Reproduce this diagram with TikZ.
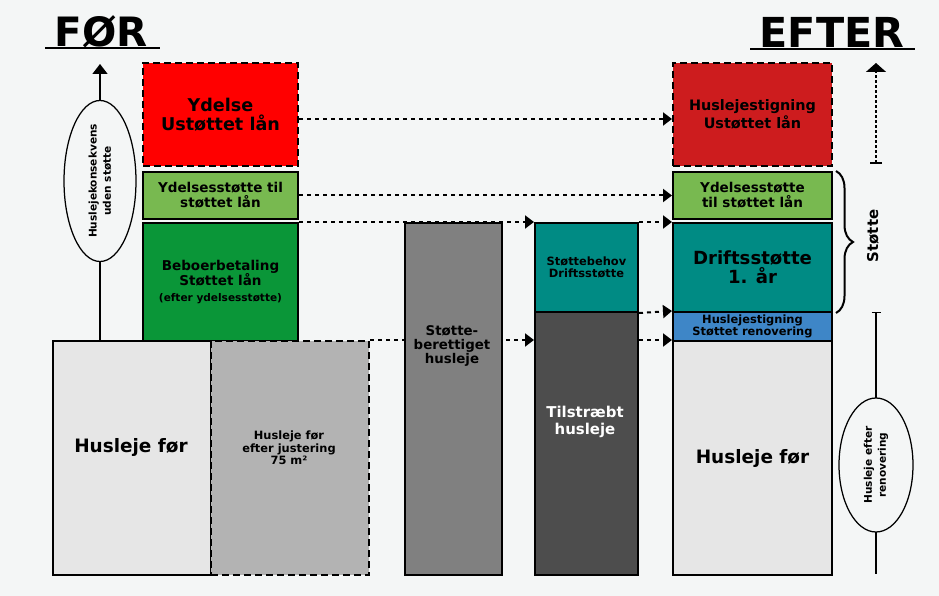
\documentclass[tikz,border=0pt]{standalone}
\usepackage{fontspec}
\setmainfont{DejaVu Sans}
\usepackage{xcolor}
\usetikzlibrary{positioning,shapes.geometric,arrows.meta,decorations.pathreplacing}

\definecolor{bgcol}{RGB}{244,246,246}
\definecolor{redF}{RGB}{255,0,0}
\definecolor{redE}{RGB}{205,28,30}
\definecolor{lgreen}{RGB}{120,185,80}
\definecolor{dgreen}{RGB}{10,150,56}
\definecolor{teal}{RGB}{0,139,132}
\definecolor{bluebox}{RGB}{62,134,199}
\definecolor{lgray}{RGB}{230,230,230}
\definecolor{mgray}{RGB}{179,179,179}
\definecolor{sgray}{RGB}{128,128,128}
\definecolor{dgray}{RGB}{77,77,77}

\newcommand{\fsz}[2]{\fontsize{#1}{#2}\selectfont}

\tikzset{
	box/.style={draw=black,line width=0.4mm,anchor=north west,inner sep=0pt,align=center},
	dbox/.style={box,dash pattern=on 1.4mm off 0.8mm},
	flow/.style={line width=0.4mm,dash pattern=on 0.8mm off 0.8mm,-{Triangle[length=1.8mm,width=2.6mm]}},
	oval/.style={ellipse,draw=black,line width=0.25mm,fill=bgcol,inner sep=0pt,rotate=90,align=center},
	lbl/.style={align=center,inner sep=0pt},
}

\begin{document}
\begin{tikzpicture}[x=0.2mm,y=-0.2mm]
	\fill[bgcol] (0,0) rectangle (939,596);
	\useasboundingbox (0,0) rectangle (939,596);
	% titles
	\node[lbl,font=\bfseries\fsz{23}{23}] (foer) at (101,32) {FØR};
	\draw[line width=0.5mm] (45,48) -- (160,48);
	\node[lbl,font=\bfseries\fsz{23.5}{23.5}] (efter) at (832,32) {EFTER};
	\draw[line width=0.5mm] (750,49) -- (915,49);
	% FØR column
	\node[dbox,fill=redF,minimum width=31mm,minimum height=20.6mm,font=\bfseries\fsz{10}{11}] (ydelse) at (142,62) {Ydelse\\Ustøttet lån};
	\node[box,fill=lgreen,minimum width=31mm,minimum height=9.4mm,font=\bfseries\fsz{7.7}{8.6}] (ystotteF) at (142,171) {Ydelsesstøtte til\\støttet lån};
	\node[box,fill=dgreen,minimum width=31mm,minimum height=23.6mm,font=\bfseries\fsz{7.7}{9.1}] (beboer) at (142,222) {Beboerbetaling\\Støttet lån\\{\fsz{6}{9.1}(efter ydelsesstøtte)}};
	\node[box,fill=lgray,minimum width=31.6mm,minimum height=46.8mm] (huslejeF) at (52,340) {};
	\node[lbl,font=\bfseries\fsz{10.5}{12}] (huslejeFtxt) at (131,447) {Husleje før};
	\node[dbox,fill=mgray,minimum width=31.6mm,minimum height=46.8mm] (justering) at (210,340) {};
	\node[lbl,font=\bfseries\fsz{6.5}{7.1}] (justeringtxt) at (289,448) {Husleje før\\efter justering\\75 m²};
	% middle columns
	\node[box,fill=teal,minimum width=20.6mm,minimum height=17.8mm,font=\bfseries\fsz{6.5}{7.2}] (behov) at (534,222) {Støttebehov\\Driftsstøtte};
	\node[box,fill=dgray,minimum width=20.6mm,minimum height=52.6mm] (tilstraebt) at (534,311) {};
	\node[lbl,text=white,font=\bfseries\fsz{8.5}{9.2}] (tilstraebttxt) at (585,422) {Tilstræbt\\husleje};
	% EFTER column
	\node[dbox,fill=redE,minimum width=31.8mm,minimum height=20.6mm,font=\bfseries\fsz{8.2}{8.6}] (stigningU) at (672,62) {Huslejestigning\\Ustøttet lån};
	\node[box,fill=lgreen,minimum width=31.8mm,minimum height=9.4mm,font=\bfseries\fsz{7.7}{8.6}] (ystotteE) at (672,171) {Ydelsesstøtte\\til støttet lån};
	\node[box,fill=teal,minimum width=31.8mm,minimum height=17.8mm,font=\bfseries\fsz{10.3}{10.9}] (drift) at (672,222) {Driftsstøtte\\1. år};
	\node[box,fill=bluebox,minimum width=31.8mm,minimum height=5.8mm,font=\bfseries\fsz{6.5}{6.9}] (stigningS) at (672,311) {Huslejestigning\\Støttet renovering};
	\node[box,fill=lgray,minimum width=31.8mm,minimum height=46.8mm,font=\bfseries\fsz{10.5}{12}] (huslejeE) at (672,340) {Husleje før};
	% dotted flows
	\draw[flow] ([yshift=-0.9mm]ydelse.east) -- ([yshift=-0.9mm]stigningU.west);
	\draw[flow] (ystotteF.east) -- (ystotteE.west);
	\draw[flow] (beboer.north east) -- (behov.north west);
	\draw[flow] (behov.north east) -- (drift.north west);
	\draw[flow] (behov.south east) -- (stigningS.north west);
	\draw[flow] (justering.north east) -- (justering.north east -| tilstraebt.west);
	\draw[flow] (tilstraebt.east |- huslejeE.north) -- (huslejeE.north west);
	\node[box,fill=sgray,minimum width=19.4mm,minimum height=70.4mm] (berettiget) at (404,222) {};
	\node[lbl,font=\bfseries\fsz{7.6}{7.7}] (berettigettxt) at (452,346) {Støtte-\\berettiget\\husleje};
	% left scale
	\coordinate (lbase) at (100,340);
	\coordinate (ltip) at (100,64);
	\draw[line width=0.3mm,-{Triangle[length=2mm,width=3mm]}] (lbase) -- (ltip);
	\node[oval,minimum width=27.4mm,minimum height=14.4mm,font=\bfseries\fsz{6}{8}] (konsekvens) at (100,181) {Huslejekonsekvens\\uden støtte};
	% right scales
	\coordinate (rbase) at (876,164);
	\coordinate (rtip) at (876,63);
	\draw[line width=0.3mm,dash pattern=on 0.5mm off 0.5mm,{Bar[width=2.4mm]}-{Triangle[length=1.8mm,width=4mm]}] (rbase) -- (rtip);
	\draw[decorate,decoration={brace,amplitude=3.4mm},line width=0.4mm] ([xshift=0.6mm]ystotteE.north east) -- ([xshift=0.6mm]drift.south east);
	\node[lbl,rotate=90,font=\bfseries\fsz{8.5}{9}] (stoette) at (873,236) {Støtte};
	\coordinate (rtick) at (876,312);
	\coordinate (rend) at (876,574);
	\draw[line width=0.3mm,{Bar[width=1.8mm]}-] (rtick) -- (rend);
	\node[oval,minimum width=26.8mm,minimum height=14.8mm,font=\bfseries\fsz{6}{8}] (renovering) at (876,465) {Husleje efter\\renovering};
\end{tikzpicture}
\end{document}
